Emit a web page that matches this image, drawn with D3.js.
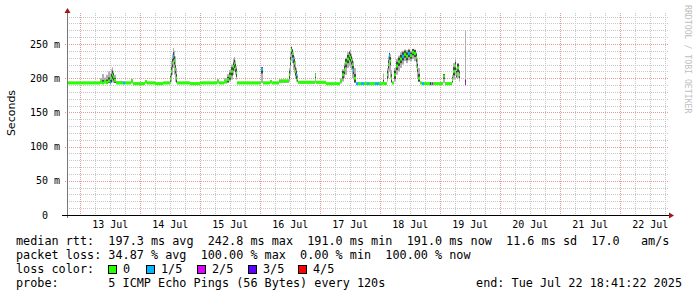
<!DOCTYPE html>
<html>
<head>
<meta charset="utf-8">
<script src="https://cdn.jsdelivr.net/npm/d3@7"></script>
<style>
  html, body { margin: 0; padding: 0; background: #fff; }
  svg text { white-space: pre; }
</style>
</head>
<body>
<div id="chart"></div>
<script>
// hours after the graph start (end - 10 days), values in ms
const hours = [0, 13.2, 14.0, 14.8, 15.6, 16.4, 17.2, 17.6, 18.0, 18.4, 18.8, 19.6, 22.4, 23.2, 25.6, 26.4,
  31.2, 32.0, 35.2, 38.4, 41.2, 41.6, 42.0, 42.4, 42.8, 43.2, 43.6, 44.0, 49.2, 53.2, 60.0, 60.8,
  62.8, 64.0, 64.8, 65.6, 66.4, 66.8, 67.2, 67.6, 68.0, 77.6, 78.4, 81.2, 82.0, 84.8, 88.8, 89.2,
  89.6, 90.0, 90.4, 90.8, 91.2, 91.6, 92.0, 92.4, 99.2, 99.6, 103.6, 109.2, 110.0, 110.8, 111.2,
  112.0, 112.8, 113.2, 113.6, 114.0, 114.4, 114.8, 115.6, 116.4, 117.6, 118.8, 120.0, 120.8, 123.2,
  124.8, 126.4, 126.8, 128.0, 128.4, 128.8, 129.2, 129.6, 130.0, 130.8, 131.6, 132.4, 133.2, 134.0,
  134.8, 135.6, 136.4, 137.2, 138.0, 138.8, 139.6, 140.0, 140.4, 141.2, 142.0, 142.8, 145.2, 145.6,
  146.0, 146.4, 150.4, 151.2, 154.0, 154.4, 155.2, 155.6, 156.0, 156.8, 157.2, 159.2, 159.6];
const median = [193, 194, 193, 195, 194, 196, 193, 200, 205, 202, 197, 193, 193, 193, 196, 192,
  195, 193, 192, 193, 199, 210, 222, 232, 226, 213, 200, 193, 192, 193, 196, 193,
  195, 198, 203, 210, 217, 221, 215, 208, 193, 213, 193, 195, 193, 196, 205, 225,
  241, 236, 228, 222, 210, 205, 199, 194, 204, 194, 192, 196, 205, 212, 222,
  228, 233, 230, 226, 220, 212, 200, 192, 192, 192, 192, 192, 192, 192,
  192, 193, 192, 205, 220, 233, 225, 200, 193, 205, 218, 224, 228, 232,
  235, 232, 236, 233, 238, 236, 230, 215, 200, 193, 192, 192, 192, 192,
  192, 192, 203, 192, 198, 210, 218, 206, 215, 205, null, 192, null];
const smokeLo = [192, 192, 192, 192, 192, 193, 192, 193, 194, 193, 193, 192, 192, 192, 192, 191,
  192, 192, 191, 192, 192, 195, 205, 215, 205, 195, 193, 192, 191, 192, 192, 192,
  192, 193, 195, 198, 205, 210, 205, 198, 192, 193, 192, 192, 192, 193, 195, 205,
  225, 222, 212, 208, 200, 195, 194, 192, 193, 192, 191, 192, 195, 200, 205,
  215, 218, 215, 212, 200, 198, 193, 191, 191, 191, 191, 191, 191, 191,
  191, 192, 191, 195, 200, 210, 200, 193, 192, 195, 205, 210, 215, 220,
  225, 222, 226, 225, 228, 225, 215, 200, 195, 192, 191, 191, 191, 191,
  191, 191, 193, 191, 193, 198, 205, 200, 200, 195, null, 191, null];
const smokeHi = [195, 200, 206, 201, 205, 210, 207, 213, 216, 211, 205, 196, 195, 195, 199, 194,
  197, 195, 194, 195, 206, 225, 235, 244, 240, 232, 215, 195, 194, 195, 198, 195,
  200, 206, 212, 220, 228, 231, 226, 218, 195, 216, 195, 197, 195, 198, 215, 238,
  246, 243, 238, 232, 225, 215, 206, 196, 207, 196, 193, 200, 213, 222, 230,
  238, 240, 242, 236, 230, 225, 215, 194, 194, 194, 194, 194, 194, 194,
  194, 207, 194, 215, 232, 237, 235, 212, 195, 215, 228, 233, 238, 240,
  242, 241, 243, 240, 243, 242, 238, 230, 215, 195, 194, 194, 194, 194,
  194, 194, 206, 194, 205, 222, 228, 215, 222, 212, null, 270, null];
// lost pings out of 5
const loss = [0, 0, 0, 0, 0, 0, 1, 0, 0, 0, 0, 0, 1, 0, 0, 0,
  0, 0, 0, 0, 0, 0, 0, 1, 0, 0, 0, 0, 0, 0, 0, 0,
  0, 0, 0, 0, 0, 0, 0, 0, 0, 1, 0, 0, 0, 0, 0, 0,
  0, 0, 1, 0, 0, 1, 0, 0, 0, 0, 0, 0, 0, 0, 0,
  0, 0, 0, 0, 0, 1, 0, 1, 0, 1, 0, 1, 0, 1,
  0, 0, 0, 0, 0, 1, 0, 0, 0, 0, 0, 0, 0, 1,
  0, 0, 1, 0, 0, 0, 0, 0, 0, 0, 1, 0, 3, 0,
  2, 0, 0, 0, 0, 0, 0, 0, 0, 0, 0, 2, 0];

const lossLabels = ["0", "1/5", "2/5", "3/5", "4/5"];
const lossColors = ["#26ff00", "#00b8ff", "#dd00ff", "#5e00ff", "#ff0000"];
const yTicks = [0, 50, 100, 150, 200, 250];
const legendLines = [
  "median rtt:  197.3 ms avg  242.8 ms max  191.0 ms min  191.0 ms now  11.6 ms sd  17.0   am/s",
  "packet loss: 34.87 % avg  100.00 % max  0.00 % min  100.00 % now",
  "loss color:",
  "probe:       5 ICMP Echo Pings (56 Bytes) every 120s"
];
const endLabel = "end: Tue Jul 22 18:41:22 2025";

const W = 697, H = 297;
const endTime = new Date(Date.UTC(2025, 6, 22, 18, 41, 22));
const startTime = new Date(endTime.getTime() - 10 * 864e5);
const pLeft = 67, pRight = 667, pTop = 15, pBottom = 215;
const mono = "DejaVu Sans Mono";

const svg = d3.select("#chart").append("svg")
  .attr("width", W).attr("height", H)
  .style("display", "block");

const x = d3.scaleUtc().domain([startTime, endTime]).range([pLeft, pRight]);
const y = d3.scaleLinear().domain([0, 292.4]).range([pBottom, pTop]);

// grid
const grid = svg.append("g");
grid.selectAll(".ygm").data(d3.range(10, 300, 10).filter(v => v % 50 !== 0))
  .enter().append("line")
  .attr("x1", pLeft).attr("x2", pRight + 1)
  .attr("y1", d => Math.round(y(d)) + 0.5).attr("y2", d => Math.round(y(d)) + 0.5)
  .attr("stroke", "#c8c8c8").attr("stroke-dasharray", "1,1");
grid.selectAll(".xgm").data(d3.utcHour.every(6).range(startTime, endTime).filter(d => d.getUTCHours() !== 0))
  .enter().append("line")
  .attr("x1", d => Math.round(x(d)) + 0.5).attr("x2", d => Math.round(x(d)) + 0.5)
  .attr("y1", pTop - 2).attr("y2", pBottom)
  .attr("stroke", "#c8c8c8").attr("stroke-dasharray", "1,1");
grid.selectAll(".ygM").data(yTicks.slice(1))
  .enter().append("line")
  .attr("x1", pLeft - 2).attr("x2", pRight + 1)
  .attr("y1", d => Math.round(y(d)) + 0.5).attr("y2", d => Math.round(y(d)) + 0.5)
  .attr("stroke", "#e39a9a").attr("stroke-dasharray", "1,1");
grid.selectAll(".xgM").data(d3.utcDay.range(startTime, endTime))
  .enter().append("line")
  .attr("x1", d => Math.round(x(d)) + 0.5).attr("x2", d => Math.round(x(d)) + 0.5)
  .attr("y1", pTop - 2).attr("y2", pBottom + 2)
  .attr("stroke", "#e39a9a").attr("stroke-dasharray", "1,1");

// segments between samples
const t = h => new Date(startTime.getTime() + h * 36e5);
const segs = [];
for (let i = 0; i < hours.length - 1; i++) {
  if (median[i] == null) continue;
  segs.push({ t0: t(hours[i]), t1: t(hours[i + 1]), med: median[i], lo: smokeLo[i], hi: smokeHi[i], loss: loss[i] });
}

// smoke: light outer band, darker core near the median
svg.append("g").selectAll("rect").data(segs).enter().append("rect")
  .attr("x", d => x(d.t0)).attr("width", d => x(d.t1) - x(d.t0))
  .attr("y", d => y(d.hi)).attr("height", d => y(d.lo) - y(d.hi))
  .attr("fill", "#b0b0b0");
const core = d => Math.min(6, (d.hi - d.lo) * 0.3);
svg.append("g").selectAll("rect").data(segs.filter(d => d.hi - d.lo > 10)).enter().append("rect")
  .attr("x", d => x(d.t0)).attr("width", d => x(d.t1) - x(d.t0))
  .attr("y", d => y(Math.min(d.hi, d.med + core(d))))
  .attr("height", d => y(Math.max(d.lo, d.med - core(d))) - y(Math.min(d.hi, d.med + core(d))))
  .attr("fill", "#444");

// median band coloured by loss
svg.append("g").selectAll("rect").data(segs).enter().append("rect")
  .attr("x", d => x(d.t0)).attr("width", d => x(d.t1) - x(d.t0))
  .attr("y", d => y(d.med) - 1.5).attr("height", 3)
  .attr("fill", d => lossColors[d.loss]);

// axes
svg.append("line").attr("x1", pLeft + 0.5).attr("x2", pLeft + 0.5)
  .attr("y1", pBottom + 3).attr("y2", 11).attr("stroke", "#777");
svg.append("line").attr("x1", pLeft - 5).attr("x2", pRight + 3)
  .attr("y1", pBottom + 0.5).attr("y2", pBottom + 0.5).attr("stroke", "#000");
svg.append("path").attr("d", `M${pLeft + 0.5},8 L${pLeft - 2.5},13 L${pLeft + 3.5},13 Z`).attr("fill", "#a01818");
svg.append("path").attr("d", `M${pRight + 7},${pBottom + 0.5} L${pRight + 2},${pBottom - 2.5} L${pRight + 2},${pBottom + 3.5} Z`).attr("fill", "#a01818");

// y tick labels
svg.append("g").selectAll("text").data(yTicks).enter().append("text")
  .attr("x", 60).attr("y", d => y(d) + 3.5)
  .attr("text-anchor", "end")
  .style("font-family", mono).style("font-size", "10px").attr("fill", "#000")
  .text(d => d === 0 ? "0  " : d + " m");

// x tick labels at noon
const fmt = d3.utcFormat("%d %b");
svg.append("g").selectAll("text")
  .data(d3.utcDay.range(startTime, endTime).map(d => d3.utcHour.offset(d, 12)).filter(d => d < endTime))
  .enter().append("text")
  .attr("x", d => x(d)).attr("y", 228)
  .attr("text-anchor", "middle")
  .style("font-family", mono).style("font-size", "10px").attr("fill", "#000")
  .text(d => fmt(d));

// axis title
svg.append("text")
  .attr("transform", "translate(15,113) rotate(-90)")
  .attr("text-anchor", "middle")
  .style("font-family", "DejaVu Sans").style("font-size", "11px").attr("fill", "#000")
  .text("Seconds");

// watermark
svg.append("text")
  .attr("transform", "translate(685,5) rotate(90)")
  .style("font-family", mono).style("font-size", "8.2px").attr("fill", "#c0c0c0")
  .text("RRDTOOL / TOBI OETIKER");

// legend
const legend = svg.append("g")
  .style("font-family", mono).style("font-size", "11.8px").attr("fill", "#000");
legend.selectAll(".ln").data(legendLines).enter().append("text")
  .attr("x", 16).attr("y", (d, i) => 245 + i * 14)
  .text(d => d);
legend.append("text").attr("x", 682).attr("y", 245 + 3 * 14)
  .attr("text-anchor", "end").text(endLabel);

const boxX = [108.5, 146.5, 197.5, 248.5, 298.5];
const items = legend.selectAll(".lc").data(lossLabels).enter().append("g");
items.append("rect")
  .attr("x", (d, i) => boxX[i]).attr("y", 265.5)
  .attr("width", 8).attr("height", 8)
  .attr("fill", (d, i) => lossColors[i]).attr("stroke", "#000");
items.append("text")
  .attr("x", (d, i) => boxX[i] + 14.5).attr("y", 273)
  .text(d => d);
</script>
</body>
</html>
